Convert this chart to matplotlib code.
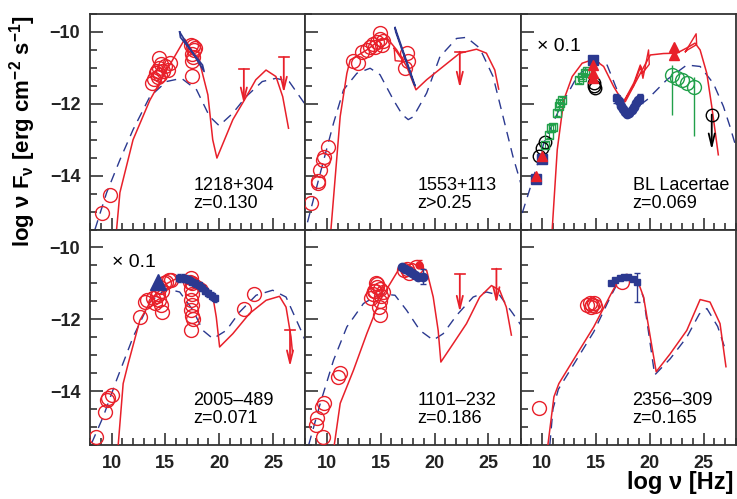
import matplotlib
matplotlib.use("Agg")
import matplotlib.pyplot as plt
from matplotlib.ticker import MultipleLocator

plt.rcParams['font.family'] = ['Liberation Sans', 'DejaVu Sans']
plt.rcParams['mathtext.fontset'] = 'custom'
plt.rcParams['mathtext.rm'] = 'Liberation Sans'
plt.rcParams['mathtext.bf'] = 'Liberation Sans:bold'
plt.rcParams['mathtext.default'] = 'bf'

RED = '#e8202a'
BLUE = '#2b3990'
GREEN = '#21a04a'

# ---------------- 1218+304 ----------------
p1_syn_x = [10.47, 10.78, 12.0, 13.56, 14.79, 15.71, 16.8, 18.19, 18.95, 19.4, 19.79, 21.27, 22.35, 23.4, 24.35, 25.27, 25.9, 26.44]
p1_syn_y = [-15.5, -14.47, -13.0, -11.9, -11.24, -10.76, -10.2, -10.85, -11.75, -13.0, -13.51, -12.44, -11.89, -11.33, -11.06, -11.24, -11.8, -12.68]
p1_dash_x = [8.46, 9.54, 10.78, 12.0, 13.56, 15.1, 16.5, 17.9, 19.1, 20.0, 21.27, 22.5, 24.0, 25.27, 26.5, 27.9]
p1_dash_y = [-15.5, -14.48, -13.56, -12.72, -11.8, -11.38, -11.29, -11.61, -12.35, -12.61, -12.26, -11.8, -11.38, -11.29, -11.38, -11.98]
p1_circ_x = [9.08, 9.85, 13.75, 13.9, 14.1, 14.2, 14.4, 14.4, 14.5, 14.6, 14.8, 15.0, 15.2, 15.4, 14.35, 17.4, 17.6, 17.7, 17.5, 17.6, 17.8, 17.5, 17.5]
p1_circ_y = [-15.04, -14.55, -11.43, -11.3, -11.15, -11.1, -10.72, -11.0, -11.2, -10.9, -11.1, -10.95, -11.05, -10.85, -11.25, -10.35, -10.4, -10.5, -10.6, -10.7, -10.45, -10.8, -11.22]
p1_bow_x = [16.33, 18.6, 18.45, 16.4, 16.33]
p1_bow_y = [-10.0, -11.1, -10.92, -10.15, -10.0]
p1_ul_x = [22.29, 26.0]
p1_ul_top = [-11.03, -10.7]
p1_ul_tip = [-12.0, -11.7]

# ---------------- 1553+113 ----------------
p2_syn_x = [10.38, 11.24, 11.86, 12.17, 13.71, 14.94, 15.62, 16.49, 17.41, 18.28, 19.27, 20.81, 22.35, 23.9, 24.82, 25.6, 25.96]
p2_syn_y = [-15.5, -12.35, -11.15, -10.78, -10.5, -10.22, -10.18, -10.5, -10.96, -11.61, -11.33, -10.96, -10.59, -10.48, -10.59, -11.06, -11.59]
p2_dash_x = [8.2, 9.39, 10.62, 11.55, 12.79, 14.02, 14.94, 16.18, 17.0, 17.56, 18.03, 19.27, 20.5, 22.05, 22.97, 24.2, 25.44, 26.36, 27.28, 28.0]
p2_dash_y = [-15.3, -13.93, -12.54, -11.61, -11.15, -11.01, -11.19, -11.89, -12.3, -12.44, -12.36, -11.7, -10.69, -10.18, -10.15, -10.45, -11.24, -12.35, -13.46, -14.2]
p2_circ_x = [8.56, 9.14, 9.2, 9.39, 9.64, 9.73, 10.07, 12.47, 12.93, 13.24, 13.7, 14.0, 14.33, 14.63, 14.94, 15.25, 14.94, 14.48, 15.1, 17.41, 17.26, 17.56]
p2_circ_y = [-14.76, -14.2, -14.15, -13.83, -13.56, -13.47, -13.19, -10.82, -10.86, -10.55, -10.5, -10.41, -10.33, -10.29, -10.2, -10.24, -10.04, -10.41, -10.37, -10.59, -11.01, -10.8]
p2_bow_x = [16.33, 18.2, 18.1, 16.4, 16.33]
p2_bow_y = [-9.88, -11.5, -11.45, -10.0, -9.88]
p2_rbow_x = [16.25, 17.1, 16.35, 16.25]
p2_rbow_y = [-10.45, -10.82, -10.8, -10.45]
p2_ul_x = [22.35]
p2_ul_top = [-10.55]
p2_ul_tip = [-11.56]

# ---------------- BL Lacertae ----------------
p3_syn_x = [10.93, 11.4, 12.01, 12.79, 13.71, 14.79, 15.71, 16.64, 17.41, 17.72, 18.8, 20.04, 21.27, 22.5, 23.4, 24.2, 24.67, 25.29, 25.75, 26.36]
p3_syn_y = [-15.5, -13.28, -11.89, -11.24, -10.87, -10.76, -10.96, -11.52, -11.9, -11.94, -11.33, -10.64, -10.6, -10.59, -10.45, -10.31, -10.5, -11.15, -12.07, -13.42]
p3_dash_x = [8.15, 8.93, 10.16, 11.7, 13.25, 14.79, 16.03, 16.95, 18.1, 19.73, 21.58, 23.43, 24.67, 25.9, 26.83, 27.44, 28.0]
p3_dash_y = [-15.04, -14.3, -13.09, -12.08, -11.24, -10.82, -10.92, -11.61, -12.25, -11.89, -11.33, -10.92, -10.96, -11.43, -12.07, -12.63, -13.2]
p3_sq_x = [9.39, 10.0, 14.73]
p3_sq_y = [-14.08, -13.55, -10.78]
p3_tri_x = [9.39, 10.0, 14.73, 14.73, 14.73, 22.29, 22.29]
p3_tri_y = [-14.0, -13.45, -10.92, -11.15, -11.28, -10.41, -10.64]
p3_xray_x = [17.1, 17.3, 17.5, 17.7, 17.9, 18.1, 18.3, 18.5, 18.7, 18.9]
p3_xray_y = [-11.93, -12.05, -12.15, -12.22, -12.27, -12.25, -12.18, -12.08, -11.98, -11.9]
p3_xsq_x = [16.9, 19.05]
p3_xsq_y = [-11.85, -11.85]
p3_blk_x = [9.7, 10.0, 10.3, 14.79, 14.94, 14.85]
p3_blk_y = [-13.46, -13.23, -13.05, -11.43, -11.57, -11.5]
p3_blk_ul_x = [25.75]
p3_blk_ul_top = [-12.3]
p3_blk_ul_tip = [-13.28]
p3_gsq_x = [10.3, 10.62, 10.78, 11.0, 11.4, 11.55, 11.7, 11.8, 13.4, 13.7, 14.02, 14.2]
p3_gsq_y = [-13.14, -12.86, -12.68, -12.64, -12.26, -12.07, -11.98, -11.9, -11.33, -11.24, -11.15, -11.1]
p3_gc_x = [22.04, 22.5, 22.97, 23.43, 24.1]
p3_gc_y = [-11.19, -11.29, -11.33, -11.43, -11.52]
p3_gc_lo = [1.11, 0.0, 0.0, 0.0, 1.39]
p3_gc_hi = [0.27, 0.0, 0.0, 0.0, 0.28]
p3_bow1_x = [17.57, 18.49, 18.6, 19.11, 19.36, 19.88, 19.95, 19.3, 19.15, 18.5, 17.65, 17.57]
p3_bow1_y = [-11.94, -11.43, -11.35, -10.92, -11.29, -10.5, -10.9, -11.15, -10.95, -11.5, -11.9, -11.94]
p3_bow2_x = [23.3, 24.3, 24.35, 23.5, 23.3]
p3_bow2_y = [-10.55, -10.05, -10.35, -10.5, -10.55]

# ---------------- 2005-489 ----------------
p4_syn_x = [10.62, 11.08, 11.55, 12.63, 13.86, 15.1, 16.33, 17.57, 18.8, 19.42, 19.73, 20.04, 21.27, 22.81, 24.36, 25.6, 26.21, 26.67, 26.8]
p4_syn_y = [-15.5, -13.79, -13.23, -12.03, -11.38, -11.01, -10.82, -10.82, -11.06, -11.38, -11.94, -12.77, -12.4, -11.84, -11.47, -11.36, -11.66, -12.49, -12.9]
p4_dash_x = [8.15, 9.23, 10.47, 12.01, 13.56, 15.1, 16.33, 17.57, 18.49, 19.42, 20.66, 21.89, 23.43, 24.97, 26.21, 27.6, 28.0]
p4_dash_y = [-15.45, -14.71, -13.69, -12.49, -11.52, -11.15, -11.24, -11.75, -12.31, -12.54, -12.31, -11.8, -11.33, -11.19, -11.38, -12.31, -12.6]
p4_circ_x = [8.56, 9.39, 9.6, 9.7, 10.0, 12.63, 13.09, 13.3, 13.86, 14.0, 14.2, 14.3, 14.4, 14.5, 14.7, 14.9, 15.1, 15.3, 15.5, 14.69, 14.6,
             17.4, 17.5, 17.4, 17.5, 17.4, 17.5, 17.4, 17.5, 17.6, 17.4, 17.3, 22.35, 23.28]
p4_circ_y = [-15.27, -14.57, -14.25, -14.2, -14.11, -11.94, -11.52, -11.45, -11.4, -11.55, -11.35, -11.3, -11.45, -11.1, -11.2, -11.0, -10.95, -10.9, -10.9, -11.8, -11.6,
             -10.85, -11.0, -11.15, -11.3, -11.45, -11.6, -11.75, -11.9, -12.0, -12.3, -10.95, -11.7, -11.29]
p4_tri_x = [14.3]
p4_tri_y = [-10.95]
p4_xray_x = [16.3, 16.6, 16.9, 17.2, 17.5, 17.8, 18.1, 18.4, 18.7, 19.0, 19.3, 19.6]
p4_xray_y = [-10.85, -10.85, -10.87, -10.9, -10.95, -11.0, -11.05, -11.12, -11.2, -11.28, -11.35, -11.42]
p4_ul_x = [26.58]
p4_ul_top = [-12.29]
p4_ul_tip = [-13.32]

# ---------------- 1101-232 ----------------
p5_syn_x = [10.69, 11.24, 12.47, 13.71, 14.94, 15.87, 16.8, 18.03, 19.27, 19.88, 20.34, 20.59, 21.73, 22.97, 24.2, 25.29, 26.05, 26.67, 27.14]
p5_syn_y = [-15.5, -14.34, -13.42, -12.4, -11.47, -11.01, -10.55, -10.45, -10.64, -11.38, -12.31, -13.19, -12.68, -12.12, -11.38, -11.06, -11.19, -11.66, -12.44]
p5_dash_x = [8.31, 9.39, 10.62, 11.86, 13.4, 14.94, 16.33, 17.41, 18.65, 19.88, 20.81, 22.05, 23.59, 24.82, 26.05, 27.28, 28.0]
p5_dash_y = [-15.5, -14.34, -13.14, -12.21, -11.56, -11.29, -11.33, -11.75, -12.31, -12.58, -12.4, -11.89, -11.38, -11.24, -11.33, -11.84, -12.15]
p5_circ_x = [9.64, 9.02, 9.08, 9.54, 9.7, 11.08, 11.24, 14.1, 14.3, 14.5, 14.7, 14.9, 15.0, 14.9, 14.8, 14.6, 15.2, 14.9, 14.63, 14.4, 17.41, 17.6, 17.2, 18.3]
p5_circ_y = [-15.27, -14.94, -14.76, -14.44, -14.34, -13.6, -13.5, -11.4, -11.3, -11.2, -11.1, -11.15, -11.35, -11.5, -11.65, -11.0, -11.25, -11.89, -11.01, -11.2, -10.59, -10.7, -10.62, -10.55]
p5_xray_x = [17.0, 17.3, 17.6, 17.9, 18.2, 18.5, 18.9]
p5_xray_y = [-10.55, -10.6, -10.65, -10.72, -10.78, -10.82, -10.82]
p5_xray_err = [0.05, 0.05, 0.05, 0.05, 0.06, 0.08, 0.21]
p5_red_x = [18.55]
p5_red_y = [-10.5]
p5_ul_x = [22.35, 25.75]
p5_ul_top = [-10.75, -10.59]
p5_ul_tip = [-11.8, -11.56]

# ---------------- 2356-309 ----------------
p6_syn_x = [10.53, 11.09, 11.55, 13.25, 14.79, 16.33, 17.26, 17.88, 18.8, 19.42, 20.04, 20.59, 21.89, 23.43, 24.67, 25.59, 26.52, 27.07]
p6_syn_y = [-15.5, -14.16, -13.79, -12.96, -12.21, -11.33, -10.82, -10.75, -10.87, -11.38, -12.49, -13.46, -12.96, -12.31, -11.45, -11.52, -12.12, -13.32]
p6_dash_x = [10.71, 11.0, 11.5, 13.25, 14.79, 16.33, 17.26, 17.88, 18.8, 19.42, 19.9, 20.45, 21.89, 23.43, 24.6, 25.3, 26.3, 26.98]
p6_dash_y = [-15.5, -14.5, -13.95, -13.1, -12.35, -11.38, -10.85, -10.78, -10.9, -11.4, -12.4, -13.55, -13.1, -12.5, -11.85, -11.7, -12.2, -12.81]
p6_circ_x = [9.7, 14.2, 14.4, 14.5, 14.6, 14.8, 14.9, 17.4]
p6_circ_y = [-14.48, -11.6, -11.55, -11.65, -11.6, -11.55, -11.62, -10.95]
p6_xray_x = [16.4, 16.8, 17.2, 17.6, 18.0, 18.4, 18.85]
p6_xray_y = [-11.0, -10.9, -10.85, -10.82, -10.83, -10.88, -10.95]
p6_xray_lo = [0.05, 0.05, 0.05, 0.05, 0.05, 0.06, 0.57]
p6_xray_hi = [0.05, 0.05, 0.05, 0.05, 0.05, 0.06, 0.25]

names = ['1218+304', '1553+113', 'BL Lacertae', '2005\u2013489', '1101\u2013232', '2356\u2013309']
redshifts = ['z=0.130', 'z>0.25', 'z=0.069', 'z=0.071', 'z=0.186', 'z=0.165']


def model(ax, sx, sy, dx, dy):
    ax.plot(dx, dy, color=BLUE, lw=1.0, dashes=(7, 5), zorder=2)
    ax.plot(sx, sy, color=RED, lw=1.1, zorder=3)


def circles(ax, x, y, color=RED, ms=10):
    ax.plot(x, y, 'o', mfc='none', mec=color, ms=ms, mew=1.0, zorder=4)


def upper_limits(ax, xs, tops, tips, color=RED, bar=True):
    for x, t, b in zip(xs, tops, tips):
        if bar:
            ax.plot([x - 0.45, x + 0.45], [t, t], color=color, lw=1.2, zorder=5)
        ax.annotate('', xy=(x, b), xytext=(x, t),
                    arrowprops=dict(arrowstyle='->,head_length=0.9,head_width=0.22',
                                    color=color, lw=1.3, shrinkA=0, shrinkB=0), zorder=5)


fig, axes = plt.subplots(2, 3, figsize=(7.37, 4.99), dpi=100, sharex=True, sharey=True)
fig.subplots_adjust(left=0.1221, right=0.9986, bottom=0.1082, top=0.9719, wspace=0, hspace=0)
axs = axes.ravel()

# panel 1
ax = axs[0]
model(ax, p1_syn_x, p1_syn_y, p1_dash_x, p1_dash_y)
circles(ax, p1_circ_x, p1_circ_y)
ax.plot(p1_bow_x, p1_bow_y, color=BLUE, lw=1.2, zorder=5)
upper_limits(ax, p1_ul_x, p1_ul_top, p1_ul_tip)

# panel 2
ax = axs[1]
model(ax, p2_syn_x, p2_syn_y, p2_dash_x, p2_dash_y)
circles(ax, p2_circ_x, p2_circ_y)
ax.plot(p2_bow_x, p2_bow_y, color=BLUE, lw=1.2, zorder=5)
ax.plot(p2_rbow_x, p2_rbow_y, color=RED, lw=1.0, zorder=5)
upper_limits(ax, p2_ul_x, p2_ul_top, p2_ul_tip, bar=True)

# panel 3
ax = axs[2]
model(ax, p3_syn_x, p3_syn_y, p3_dash_x, p3_dash_y)
ax.plot(p3_bow1_x, p3_bow1_y, color=RED, lw=1.0, zorder=3)
ax.plot(p3_bow2_x, p3_bow2_y, color=RED, lw=1.0, zorder=3)
ax.errorbar(p3_gsq_x, p3_gsq_y, yerr=0.08, fmt='s', mfc='none', mec=GREEN, ecolor=GREEN,
            ms=6, mew=1.0, elinewidth=0.8, capsize=2, zorder=4)
circles(ax, p3_blk_x, p3_blk_y, color='black', ms=9)
circles(ax, p3_blk_ul_x, p3_blk_ul_top, color='black', ms=9)
upper_limits(ax, p3_blk_ul_x, p3_blk_ul_top, p3_blk_ul_tip, color='black', bar=False)
ax.errorbar(p3_gc_x, p3_gc_y, yerr=[p3_gc_lo, p3_gc_hi], fmt='o', mfc='none', mec=GREEN,
            ecolor=GREEN, ms=10, mew=1.0, elinewidth=1.0, capsize=0, zorder=4)
ax.plot(p3_xray_x, p3_xray_y, 'o', color=BLUE, ms=6, zorder=4)
ax.errorbar(p3_xsq_x, p3_xsq_y, yerr=0.12, fmt='s', color=BLUE, ms=5, capsize=2, elinewidth=1, zorder=4)
ax.plot(p3_sq_x, p3_sq_y, 's', color=BLUE, ms=7, zorder=5)
ax.plot(p3_tri_x, p3_tri_y, '^', color=RED, ms=7, zorder=6)
ax.text(0.075, 0.85, '\u00d7 0.1', transform=ax.transAxes, fontsize=14, va='center')

# panel 4
ax = axs[3]
model(ax, p4_syn_x, p4_syn_y, p4_dash_x, p4_dash_y)
circles(ax, p4_circ_x, p4_circ_y)
ax.errorbar(p4_xray_x, p4_xray_y, yerr=0.1, fmt='s', color=BLUE, ms=5, capsize=1.5,
            elinewidth=0.8, zorder=5)
ax.plot(p4_tri_x, p4_tri_y, '^', color=BLUE, ms=12, zorder=6)
upper_limits(ax, p4_ul_x, p4_ul_top, p4_ul_tip)
ax.text(0.1, 0.846, '\u00d7 0.1', transform=ax.transAxes, fontsize=14, va='center')

# panel 5
ax = axs[4]
model(ax, p5_syn_x, p5_syn_y, p5_dash_x, p5_dash_y)
circles(ax, p5_circ_x, p5_circ_y)
ax.errorbar(p5_red_x, p5_red_y, yerr=[[0.05], [0.15]], fmt='o', color=RED, ms=5, capsize=2,
            elinewidth=1, zorder=5)
ax.errorbar(p5_xray_x, p5_xray_y, yerr=p5_xray_err, fmt='o', color=BLUE, ms=6, capsize=2,
            elinewidth=1, zorder=6)
upper_limits(ax, p5_ul_x, p5_ul_top, p5_ul_tip)

# panel 6
ax = axs[5]
model(ax, p6_syn_x, p6_syn_y, p6_dash_x, p6_dash_y)
circles(ax, p6_circ_x, p6_circ_y)
ax.errorbar(p6_xray_x, p6_xray_y, yerr=[p6_xray_lo, p6_xray_hi], fmt='s', color=BLUE, ms=5,
            capsize=2, elinewidth=1, zorder=5)

for i, ax in enumerate(axs):
    ax.set_xlim(8, 28)
    ax.set_ylim(-15.5, -9.5)
    ax.xaxis.set_major_locator(MultipleLocator(5))
    ax.xaxis.set_minor_locator(MultipleLocator(1))
    ax.yaxis.set_major_locator(MultipleLocator(2))
    ax.yaxis.set_minor_locator(MultipleLocator(0.5))
    ax.tick_params(which='both', direction='in', top=False, right=False, width=1.1,
                   colors='#222222', labelsize=13)
    ax.tick_params(which='major', length=9, pad=7)
    ax.tick_params(which='minor', length=5)
    for lab in ax.get_xticklabels() + ax.get_yticklabels():
        lab.set_fontweight('bold')
    for sp in ax.spines.values():
        sp.set_linewidth(1.3)
        sp.set_color('#333333')
    tx = 0.52 if i in (1, 2, 4, 5) else 0.48
    ax.text(tx, 0.205, names[i], transform=ax.transAxes, fontsize=13, va='center')
    ax.text(tx, 0.122, redshifts[i], transform=ax.transAxes, fontsize=13, va='center')

fig.text(0.03, 0.737, 'log \u03bd F$_{\u03bd}$ [erg cm$^{-2}$ s$^{-1}$]', rotation=90,
         fontsize=16, fontweight='bold', ha='center', va='center')
fig.text(0.995, 0.034, 'log \u03bd [Hz]', fontsize=17, fontweight='bold', ha='right', va='center')

fig.savefig('out.png', dpi=100)
